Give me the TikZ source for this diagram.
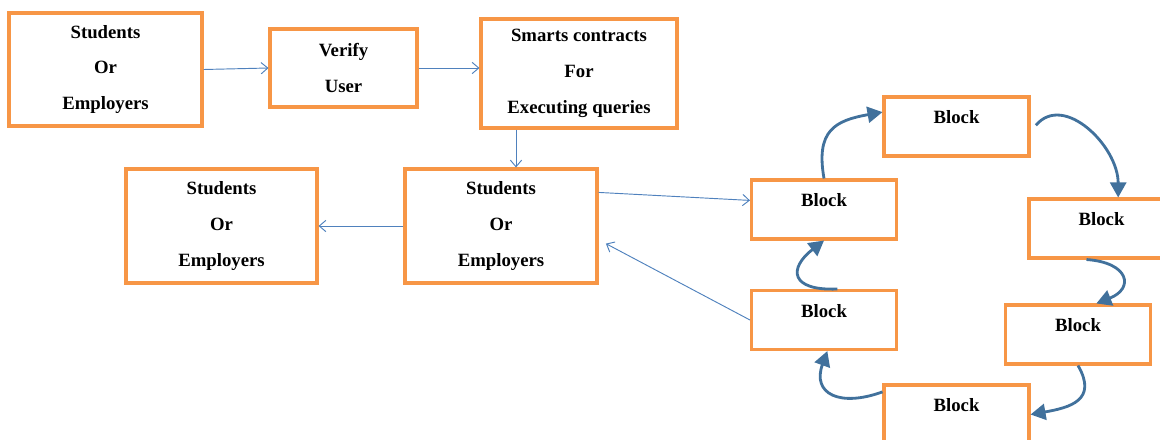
\documentclass[tikz,border=0pt]{standalone}
\usepackage{fontspec}
\setmainfont{Liberation Serif}
\usetikzlibrary{arrows.meta}
\definecolor{boxorange}{HTML}{F79646}
\definecolor{linkblue}{HTML}{4F81BD}
\definecolor{chainblue}{HTML}{41719C}
\tikzset{
  box/.style = {draw = boxorange, line width = 2.6pt, align = center, inner sep = 0pt,
    font = \bfseries\fontsize{16}{30.6}\selectfont},
  block/.style = {box, minimum width = 4.35cm, minimum height = 1.77cm,
    font = \bfseries\fontsize{16}{16}\selectfont},
  link/.style = {draw = linkblue, line width = 0.8pt, -{Straight Barb[length=2mm,width=3.4mm]}},
  chain/.style = {draw = chainblue, line width = 2.4pt, -{Triangle[length=4.5mm,width=4.8mm]}},
}
\begin{document}
\begin{tikzpicture} [x = 0.03cm, y = 0.03cm]
	\useasboundingbox (0,0) rectangle (1160,-439);
	\clip (0,0) rectangle (1160,-439);
	
	\node [box, minimum width = 5.79cm, minimum height = 3.39cm] (se1) at (105.5,-69.5) {Students\\Or\\Employers};
	\node [box, minimum width = 4.41cm, minimum height = 2.34cm] (ver) at (343.5,-68) {Verify\\User};
	\node [box, minimum width = 5.88cm, minimum height = 3.27cm] (sc) at (579,-73.5) {Smarts contracts\\For\\Executing queries};
	\node [box, minimum width = 5.76cm, minimum height = 3.42cm] (se2) at (501,-226) {Students\\Or\\Employers};
	\node [box, minimum width = 5.73cm, minimum height = 3.42cm] (se3) at (221.5,-226) {Students\\Or\\Employers};
	
	\node [block] (bl1) at (824,-209.5) {Block\\\mbox{}};
	\node [block] (bl2) at (956.5,-126.5) {Block\\\mbox{}};
	\node [block] (bl3) at (1101.5,-228.5) {Block\\\mbox{}};
	\node [block] (bl4) at (1078,-334.5) {Block\\\mbox{}};
	\node [block] (bl5) at (956.5,-414.5) {Block\\\mbox{}};
	\node [block] (bl6) at (824,-320) {Block\\\mbox{}};
	
	\draw [link] (se1.east) -- (ver.west);
	\draw [link] (ver.east) -- (ver.east -| sc.west);
	\coordinate (tap) at ([xshift = 0.45cm]se2.north);
	\draw [link] (tap |- sc.south) -- (tap);
	\draw [link] (se2.west) -- (se3.east);
	\draw [link] (se2.19) -- (bl1.173);
	\draw [link, shorten > = 0.25cm] (bl6.west) -- (se2.-8);
	
	\draw [chain] (bl1.north) to [out = 100, in = 190, looseness = 1.4] (bl2.169);
	\draw [chain, shorten < = 0.25cm] (bl2.-4) to [out = 50, in = 90, looseness = 1.2] ([xshift = 0.5cm]bl3.north);
	\draw [chain] ([xshift = -0.45cm]bl3.south) .. controls +(43,-3) and +(38,15) .. ([xshift = 0.55cm]bl4.north);
	\draw [chain] (bl4.south) to [out = -60, in = 10, looseness = 1.5] (bl5.east);
	\draw [chain] (bl5.163) to [out = 200, in = -110, looseness = 1.7] ([xshift = 0.1cm]bl6.south);
	\draw [chain] ([xshift = 0.4cm]bl6.north) .. controls +(-47,-2) and +(-36,-28) .. (bl1.south);
\end{tikzpicture}
\end{document}
